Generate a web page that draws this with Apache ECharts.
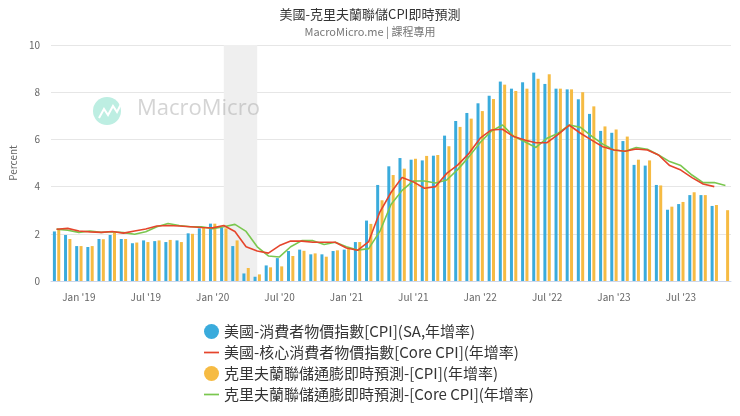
<!DOCTYPE html>
<html>
<head>
<meta charset="utf-8">
<script src="https://cdn.jsdelivr.net/npm/echarts@6/dist/echarts.min.js"></script>
<style>
html,body{margin:0;padding:0;background:#fff;}
#chart{width:740px;height:416px;}
</style>
</head>
<body>
<div id="chart"></div>
<script>
const months = [
  '2018-11','2018-12',
  '2019-01','2019-02','2019-03','2019-04','2019-05','2019-06','2019-07','2019-08','2019-09','2019-10','2019-11','2019-12',
  '2020-01','2020-02','2020-03','2020-04','2020-05','2020-06','2020-07','2020-08','2020-09','2020-10','2020-11','2020-12',
  '2021-01','2021-02','2021-03','2021-04','2021-05','2021-06','2021-07','2021-08','2021-09','2021-10','2021-11','2021-12',
  '2022-01','2022-02','2022-03','2022-04','2022-05','2022-06','2022-07','2022-08','2022-09','2022-10','2022-11','2022-12',
  '2023-01','2023-02','2023-03','2023-04','2023-05','2023-06','2023-07','2023-08','2023-09','2023-10','2023-11'
];
const monthNames = ['Jan','Feb','Mar','Apr','May','Jun','Jul','Aug','Sep','Oct','Nov','Dec'];
const tickMonths = ['01','07'];

const cpiUS = [
  2.10,1.95,
  1.48,1.44,1.78,1.95,1.78,1.60,1.72,1.69,1.65,1.72,2.02,2.23,
  2.43,2.27,1.48,0.32,0.18,0.66,0.97,1.27,1.33,1.13,1.13,1.27,
  1.33,1.65,2.56,4.07,4.86,5.21,5.14,5.11,5.31,6.16,6.78,7.12,
  7.53,7.85,8.45,8.15,8.42,8.83,8.35,8.15,8.12,7.70,7.08,6.36,
  6.28,5.93,4.92,4.89,4.07,3.02,3.26,3.64,3.64,3.18,null
];
const coreUS = [
  2.19,2.23,
  2.12,2.08,2.06,2.10,2.03,2.12,2.20,2.33,2.35,2.33,2.30,2.27,
  2.25,2.35,2.10,1.45,1.27,1.18,1.50,1.69,1.69,1.64,1.64,1.64,
  1.40,1.30,1.67,2.92,3.75,4.39,4.20,3.93,4.00,4.56,4.92,5.41,
  6.05,6.40,6.43,6.12,5.97,5.86,5.86,6.21,6.60,6.26,5.97,5.69,
  5.55,5.50,5.59,5.55,5.34,4.89,4.70,4.38,4.11,4.00,null
];
const cpiNowcast = [
  2.16,1.78,
  1.48,1.48,1.77,2.06,1.78,1.63,1.65,1.72,1.74,1.65,2.00,2.25,
  2.43,2.23,1.72,0.55,0.28,0.58,0.62,1.06,1.28,1.17,1.03,1.30,
  1.36,1.65,2.42,3.42,4.49,4.76,5.18,5.30,5.34,5.71,6.53,6.88,
  7.20,7.71,8.32,8.05,8.15,8.57,8.76,8.15,8.12,8.00,7.40,6.55,
  6.42,6.12,5.14,5.11,4.05,3.15,3.35,3.76,3.64,3.22,3.00
];
const coreNowcast = [
  2.20,2.15,
  2.06,2.12,2.06,2.09,2.05,1.98,2.09,2.30,2.44,2.35,2.30,2.30,
  2.22,2.30,2.40,2.10,1.45,1.06,1.02,1.45,1.71,1.71,1.55,1.64,
  1.45,1.31,1.37,2.10,3.24,3.84,4.24,4.24,4.15,4.28,4.73,5.27,
  5.87,6.35,6.61,6.14,5.90,5.66,6.05,6.26,6.61,6.51,6.14,5.80,
  5.55,5.50,5.66,5.58,5.34,5.06,4.89,4.49,4.17,4.17,4.05
];
const recession = ['2020-02','2020-05'];
const yTicks = {min: 0, max: 10, interval: 2};

const names = [
  '美國-消費者物價指數[CPI](SA,年增率)',
  '美國-核心消費者物價指數[Core CPI](年增率)',
  '克里夫蘭聯儲通膨即時預測-[CPI](年增率)',
  '克里夫蘭聯儲通膨即時預測-[Core CPI](年增率)'
];
const colors = ['#3aabdc','#e5452c','#f6bb43','#7ac74f'];
const lineIcon = 'path://M0,0 L14,0 L14,1.6 L0,1.6 Z';

function isTick(idx){
  return tickMonths.indexOf(months[idx].slice(5)) >= 0;
}
function fmt(v){
  const y = v.slice(2,4), m = parseInt(v.slice(5),10);
  return monthNames[m-1] + " '" + y;
}

const chart = echarts.init(document.getElementById('chart'));
chart.setOption({
  animation: false,
  textStyle: {fontFamily: "'Noto Sans CJK TC','Noto Sans',sans-serif"},
  title: {
    text: '美國-克里夫蘭聯儲CPI即時預測',
    subtext: 'MacroMicro.me | 課程專用',
    left: 'center',
    top: 3,
    itemGap: 5,
    textStyle: {fontSize: 13, color: '#333', fontWeight: 'normal'},
    subtextStyle: {fontSize: 11, color: '#777'}
  },
  graphic: [
    {type: 'circle', left: 93, top: 97, shape: {r: 14}, style: {fill: '#bdeee2'}, z: 10, silent: true},
    {type: 'polyline', shape: {points: [[99,118],[104,109],[108,115],[113,106],[117,112],[121,104]]},
      style: {stroke: '#fff', lineWidth: 2, fill: null}, z: 11, silent: true},
    {type: 'text', left: 137, top: 98, style: {text: 'MacroMicro', fill: 'rgba(170,170,170,0.5)', fontSize: 22,
      fontFamily: "'Open Sans','Noto Sans',sans-serif"}, z: 10, silent: true}
  ],
  legend: {
    data: [
      {name: names[0], icon: 'circle'},
      {name: names[1], icon: lineIcon},
      {name: names[2], icon: 'circle'},
      {name: names[3], icon: lineIcon}
    ],
    orient: 'vertical',
    left: 199,
    top: 319,
    itemWidth: 15,
    itemHeight: 15,
    itemGap: 6,
    textStyle: {fontSize: 15, color: '#333'}
  },
  grid: {left: 47, right: 9, top: 45, bottom: 135},
  xAxis: {
    type: 'category',
    data: months,
    boundaryGap: true,
    axisLine: {lineStyle: {color: '#ccd6eb'}},
    axisTick: {alignWithLabel: true, length: 7, interval: function(i){return isTick(i);}, lineStyle: {color: '#cfe3d8'}},
    axisLabel: {interval: function(i){return isTick(i);}, formatter: fmt, color: '#666', fontSize: 10, margin: 11}
  },
  yAxis: {
    type: 'value',
    min: yTicks.min, max: yTicks.max, interval: yTicks.interval,
    name: 'Percent',
    nameLocation: 'middle',
    nameGap: 33,
    nameTextStyle: {color: '#666', fontSize: 10},
    axisLabel: {color: '#666', fontSize: 10, margin: 11},
    axisLine: {show: false},
    axisTick: {show: false},
    splitLine: {lineStyle: {color: '#e6e6e6'}}
  },
  series: [
    {name: 'recession', type: 'line', data: [], z: 0, silent: true,
      markArea: {silent: true, itemStyle: {color: '#efefef'},
        data: [[{xAxis: recession[0]}, {xAxis: recession[1]}]]}},
    {name: names[0], type: 'bar', data: cpiUS, barWidth: 3, barGap: '45%', itemStyle: {color: colors[0]}, z: 2},
    {name: names[1], type: 'line', data: coreUS, symbol: 'none', lineStyle: {width: 1.6, color: colors[1]}, itemStyle: {color: colors[1]}, z: 4},
    {name: names[2], type: 'bar', data: cpiNowcast, barWidth: 3, itemStyle: {color: colors[2]}, z: 2},
    {name: names[3], type: 'line', data: coreNowcast, symbol: 'none', lineStyle: {width: 1.6, color: colors[3]}, itemStyle: {color: colors[3]}, z: 3}
  ]
});
</script>
</body>
</html>
